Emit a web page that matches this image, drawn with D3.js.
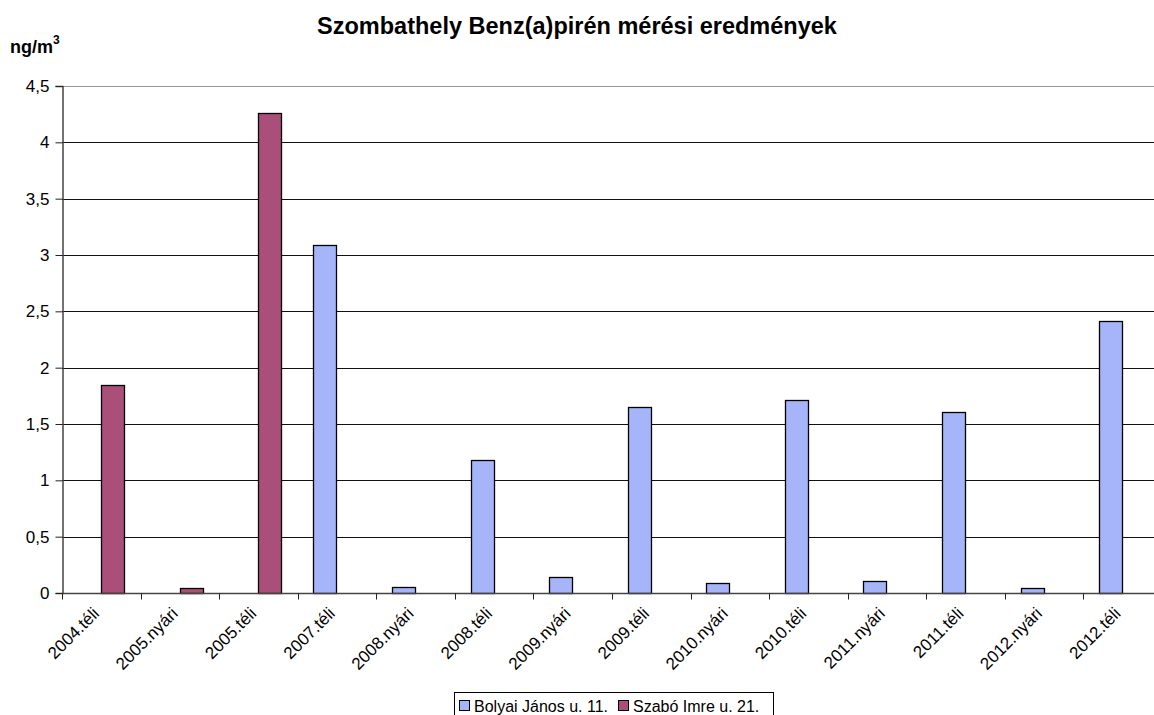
<!DOCTYPE html>
<html>
<head>
<meta charset="utf-8">
<script src="https://cdn.jsdelivr.net/npm/d3@7"></script>
<style>
  html, body { margin: 0; padding: 0; background: #fff; overflow: hidden; }
  svg { display: block; font-family: "Liberation Sans", Arial, sans-serif; }
</style>
</head>
<body>
<svg id="chart" width="1154" height="715"></svg>
<script>
const categories = ["2004.téli","2005.nyári","2005.téli","2007.téli","2008.nyári","2008.téli","2009.nyári","2009.téli","2010.nyári","2010.téli","2011.nyári","2011.téli","2012.nyári","2012.téli"];
const seriesNames = ["Bolyai János u. 11.", "Szabó Imre u. 21."];
const bolyaiValues = [null, null, null, 3.09, 0.05, 1.18, 0.14, 1.65, 0.09, 1.71, 0.11, 1.61, 0.04, 2.41];
const szaboValues  = [1.85, 0.04, 4.26, null, null, null, null, null, null, null, null, null, null, null];
const yTicks = [0, 0.5, 1, 1.5, 2, 2.5, 3, 3.5, 4, 4.5];
const seriesColors = ["#a6b4fa", "#a94f79"];
const titleText = "Szombathely Benz(a)pirén mérési eredmények";

const svg = d3.select("#chart");
const pLeft = 62, pRight = 1162, pTop = 86, pBottom = 593;

const x0 = d3.scaleBand().domain(categories).range([pLeft, pRight]).paddingInner(0).paddingOuter(0);
const x1 = d3.scaleBand().domain(seriesNames).range([0, x0.bandwidth()]).paddingInner(0).paddingOuter(0.67);
const y = d3.scaleLinear().domain([0, 4.5]).range([pBottom, pTop]);

// gridlines
svg.append("g").selectAll("line").data(yTicks.filter(d => d > 0)).join("line")
  .attr("x1", pLeft).attr("x2", pRight)
  .attr("y1", d => Math.round(y(d)) + 0.5).attr("y2", d => Math.round(y(d)) + 0.5)
  .attr("stroke", d => d === 4.5 ? "#999" : "#111").attr("stroke-width", 1);

// bars
const rows = categories.map((c, i) => ({ cat: c, vals: [bolyaiValues[i], szaboValues[i]] }));
const g = svg.append("g");
rows.forEach(r => {
  r.vals.forEach((v, si) => {
    if (v == null) return;
    const bx = x0(r.cat) + x1(seriesNames[si]);
    g.append("rect")
      .attr("x", Math.round(bx) + 0.5)
      .attr("y", Math.round(y(v)) + 0.5)
      .attr("width", Math.round(x1.bandwidth()) - 1)
      .attr("height", Math.round(y(0)) - Math.round(y(v)))
      .attr("fill", seriesColors[si])
      .attr("stroke", "#000").attr("stroke-width", 1.3);
  });
});

// y axis
const yAxis = d3.axisLeft(y).tickValues(yTicks).tickSize(7).tickPadding(6)
  .tickFormat(d => String(d).replace(".", ","));
const ya = svg.append("g").attr("transform", `translate(${pLeft + 0.5},0)`).call(yAxis);
ya.select(".domain").attr("stroke", "#444").attr("stroke-width", 1.5);
ya.selectAll(".tick line").attr("stroke", "#222");
ya.selectAll(".tick text").attr("font-size", 17).attr("fill", "#000")
  .attr("font-family", "'Liberation Sans', Arial, sans-serif");

// x axis
const xa = svg.append("g").attr("transform", `translate(0,${pBottom + 0.5})`);
xa.append("line").attr("x1", pLeft).attr("x2", pRight).attr("stroke", "#444").attr("stroke-width", 1.5);
const boundaries = categories.map(c => x0(c)).concat([pRight]);
xa.selectAll("line.tk").data(boundaries).join("line").attr("class", "tk")
  .attr("x1", d => Math.round(d) + 0.5).attr("x2", d => Math.round(d) + 0.5)
  .attr("y1", 0).attr("y2", 6).attr("stroke", "#222");
xa.selectAll("text").data(categories).join("text")
  .attr("transform", d => `translate(${x0(d) + x0.bandwidth() / 2 - 1},${21}) rotate(-45)`)
  .attr("text-anchor", "end")
  .attr("font-size", 17)
  .text(d => d);

// title
svg.append("text").attr("x", 577).attr("y", 34).attr("text-anchor", "middle")
  .attr("font-weight", "bold").attr("font-size", 23.5).text(titleText);

// y unit label
const unit = svg.append("text").attr("x", 10).attr("y", 53).attr("font-weight", "bold").attr("font-size", 18);
unit.append("tspan").text("ng/m");
unit.append("tspan").attr("dy", -9).attr("font-size", 12).text("3");

// legend
const lg = svg.append("g").attr("transform", "translate(454,692)");
lg.append("rect").attr("x", 0.5).attr("y", 0.5).attr("width", 319).attr("height", 30)
  .attr("fill", "#fff").attr("stroke", "#000");
let lx = 5;
seriesNames.forEach((n, i) => {
  lg.append("rect").attr("x", lx + 0.5).attr("y", 8.5).attr("width", 10).attr("height", 10)
    .attr("fill", seriesColors[i]).attr("stroke", "#000");
  const t = lg.append("text").attr("x", lx + 15).attr("y", 20).attr("font-size", 16).text(n);
  lx += 15 + t.node().getComputedTextLength() + 10;
});
</script>
</body>
</html>
